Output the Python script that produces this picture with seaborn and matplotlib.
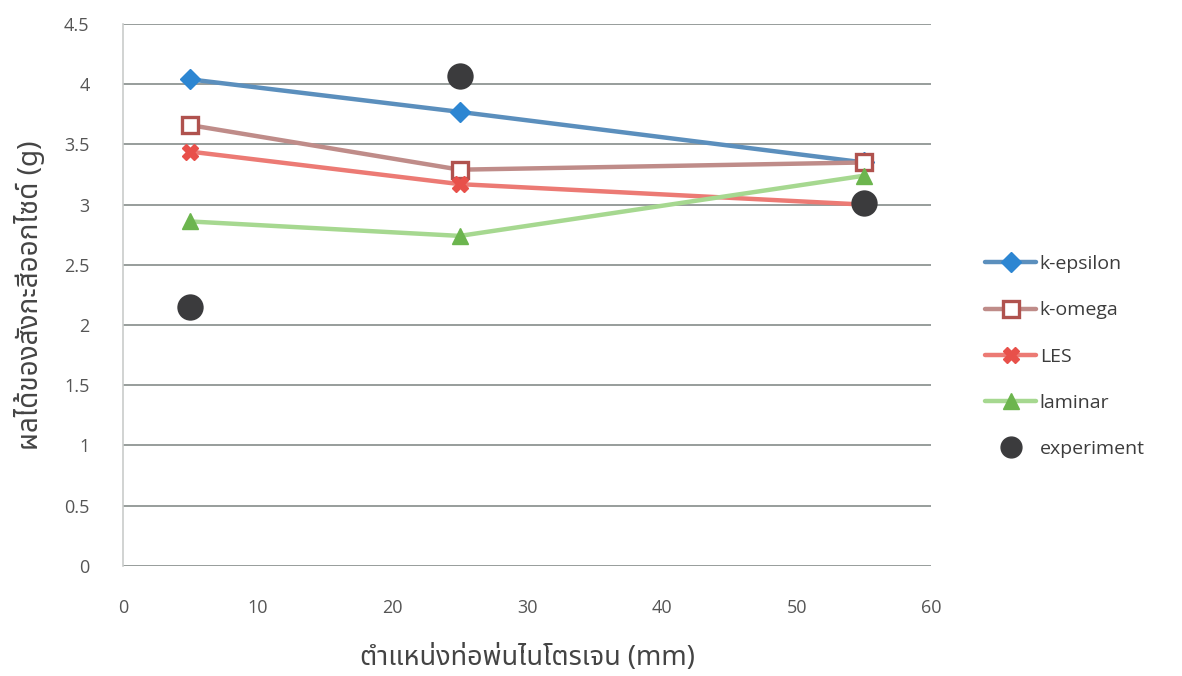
import matplotlib
matplotlib.use("Agg")
import matplotlib.pyplot as plt
from matplotlib import font_manager
from matplotlib.ft2font import FT2Font
from matplotlib.lines import Line2D
import seaborn as sns

# Nozzle position (mm) and simulated / measured values (g)
positions = [5, 25, 55]
k_epsilon = [4.04, 3.77, 3.35]
k_omega = [3.66, 3.29, 3.35]
les = [3.44, 3.17, 3.00]
laminar = [2.86, 2.74, 3.24]
experiment = [2.15, 4.07, 3.01]

series_names = ["k-epsilon", "k-omega", "LES", "laminar", "experiment"]
x_ticks = [0, 10, 20, 30, 40, 50, 60]
y_ticks = [0, 0.5, 1, 1.5, 2, 2.5, 3, 3.5, 4, 4.5]
y_tick_labels = ["0", "0.5", "1", "1.5", "2", "2.5", "3", "3.5", "4", "4.5"]

x_label = "ตำแหน่งท่อพ่นไนโตรเจน (mm)"
y_label = "ผลได้ของสังกะสีออกไซด์ (g)"


def find_thai_family():
    """Return the first installed family that has Thai glyphs."""
    preferred = ["Noto Sans Thai", "Noto Sans Thai UI", "Noto Serif Thai",
                 "Loma", "Garuda", "Tlwg Typo", "Waree", "Norasi"]
    found = {}
    for f in font_manager.fontManager.ttflist:
        try:
            cmap = FT2Font(f.fname).get_charmap()
        except Exception:
            continue
        if 0x0E15 in cmap and 0x0E33 in cmap:
            found.setdefault(f.name, f.fname)
    for name in preferred:
        if name in found:
            return name
    return next(iter(found), None)


sns.set_theme(style="white")
thai = find_thai_family()
families = ["Open Sans", "DejaVu Sans"]
label_families = ([thai] if thai else []) + families
plt.rcParams["font.family"] = families

fig, ax = plt.subplots(figsize=(11.82, 6.76), dpi=100)
fig.subplots_adjust(left=0.104, right=0.788, bottom=0.163, top=0.9645)

line_styles = [
    (k_epsilon, "#5b8fbd", "D", "#2d86d2", "#2d86d2", 10),
    (k_omega, "#bf8c89", "s", "white", "#b0524e", 11),
    (les, "#ec7a74", "X", "#e8504a", "#e8504a", 12),
    (laminar, "#a6d890", "^", "#6cb54e", "#6cb54e", 12),
]

handles = []
for (vals, lc, mk, mfc, mec, ms), name in zip(line_styles, series_names[:4]):
    sns.lineplot(x=positions, y=vals, ax=ax, color=lc, linewidth=3.2,
                 marker=mk, markersize=ms, markerfacecolor=mfc,
                 markeredgecolor=mec, markeredgewidth=2.4 if mk == "s" else 1,
                 zorder=3)
    handles.append(Line2D([], [], color=lc, linewidth=3.2, marker=mk,
                          markersize=ms, markerfacecolor=mfc,
                          markeredgecolor=mec,
                          markeredgewidth=2.4 if mk == "s" else 1))

sns.scatterplot(x=positions, y=experiment, ax=ax, color="#3b3b3d", s=360,
                edgecolor="#3b3b3d", linewidth=0, zorder=4)
handles.append(Line2D([], [], linestyle="none", marker="o", markersize=15,
                      markerfacecolor="#3b3b3d", markeredgecolor="#3b3b3d"))

ax.set_xlim(0, 60)
ax.set_ylim(0, 4.5)
ax.set_xticks(x_ticks)
ax.set_xticklabels([str(t) for t in x_ticks])
ax.set_yticks(y_ticks)
ax.set_yticklabels(y_tick_labels)
ax.yaxis.grid(True, color="#8f9593", linewidth=1.3)
ax.xaxis.grid(False)
for side in ["top", "right", "bottom"]:
    ax.spines[side].set_visible(False)
ax.spines["left"].set_color("#c9cccb")
ax.spines["left"].set_linewidth(1.2)
ax.tick_params(axis="x", length=0, pad=24, labelsize=13, labelcolor="#555555")
ax.tick_params(axis="y", length=0, pad=24, labelsize=13, labelcolor="#555555")

ax.set_xlabel(x_label, family=label_families, fontsize=19.5, color="#444444",
              labelpad=19)
ax.set_ylabel(y_label, family=label_families, fontsize=20, color="#444444",
              labelpad=14)

ax.legend(handles, series_names, loc="center left",
          bbox_to_anchor=(1.045, 0.386), frameon=False, fontsize=14,
          labelspacing=1.45, handlelength=2.6, handletextpad=0.2,
          labelcolor="#3c3c3c")

fig.savefig("out.png", dpi=100, facecolor="white")
